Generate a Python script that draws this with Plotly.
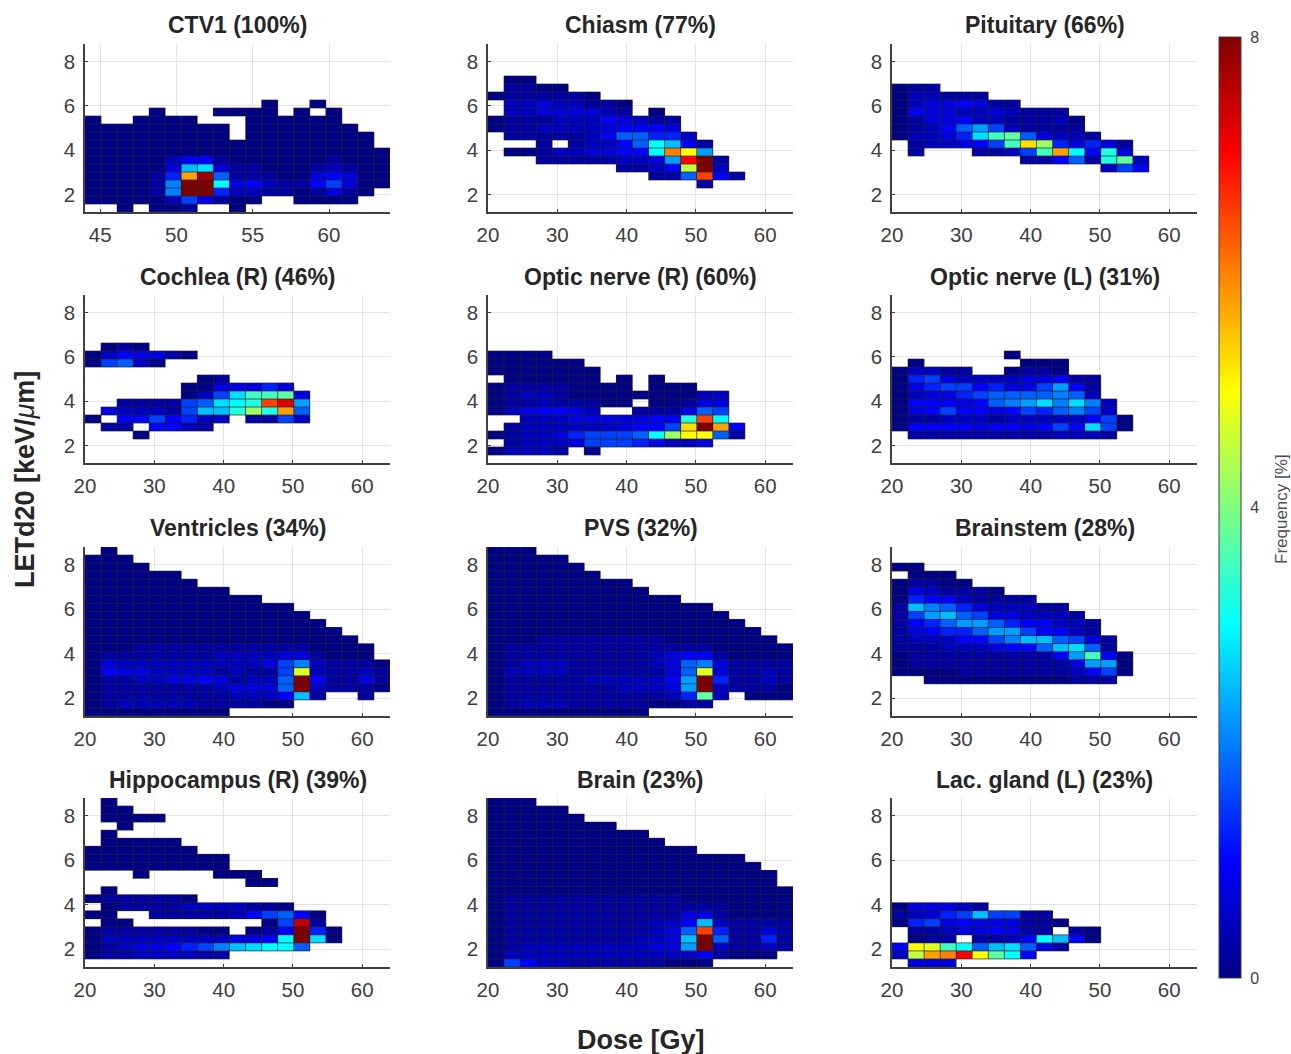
import plotly.graph_objects as go

# Each panel: 21 rows from top (highest LETd20 bin) to bottom, 19 dose bins per row.
# '.' = empty bin, otherwise one character = frequency in quarter-percent steps.
CODES = "0123456789ABCDEFGHIJKLMNOPQRSTUVW"

ctv1 = ["", "", "", "", "", "", "",
 "...........0..0",
 "....0...0000.0.0",
 "0..0000...000000",
 "000000000.0000000",
 "000000000.00000000",
 "000000000000000000",
 "0000000000000000000",
 "0000024410000001000",
 "000003AB31100012100",
 "000015NV71110034300",
 "000018WWC3421146300",
 "000018WW5221101310",
 "00000263100..0000",
 "..0.001..0"]

chiasm = ["", "", "", "",
 ".00",
 ".1100",
 "0111110",
 ".22322110",
 ".22333321.0",
 "011122243211",
 "011222234443",
 ".111112477552",
 "...1.12247CA41",
 ".001223344COK9",
 "...111112239SW1",
 "........1124IW2",
 "..........117Q41",
 ".............1",
 "", "", ""]

pituitary = ["", "", "", "", "",
 "011",
 "022111",
 "02334311",
 "04332232111",
 "013342211120",
 "012479621111",
 "02235BEF73221",
 ".122346ELH53531",
 ".1...1126ENC4D3",
 "........11471DF2",
 ".............264",
 "", "", "", "", ""]

cochlea_r = ["", "", "", "", "", "",
 ".010",
 "0243310",
 "06720",
 "",
 ".......01",
 "......0033353",
 "......026BEEF3",
 "..111167BCDQT9",
 ".322216AADHDN7",
 "0.4464522.1162",
 ".11.4421",
 "...0",
 "", "", ""]

optic_r = ["", "", "", "", "", "", "",
 "0000",
 "000000",
 "0000000",
 ".000000.0.0",
 "011110000.000",
 "012210000000022",
 "011211100.00133",
 "0234432..111376",
 "..2223333344DQC",
 ".12222223446LWN4",
 "0122356667CHKK71",
 ".1222366653223",
 "02221.0",
 ""]

optic_l = ["", "", "", "", "", "", "",
 ".......0",
 ".0......000",
 "02211..0110",
 "0563222233411",
 "0356645336941",
 "0233567777872",
 "044434789B8B82",
 "03464434657862",
 "011222122222460",
 "044443443464B60",
 ".1111111112221",
 "", "", ""]

ventricles = [
 ".0",
 "000",
 "0000",
 "000000",
 "0000000",
 "000000000",
 "00000000000",
 "0000000000000",
 "00000000000000",
 "000000000000000",
 "0000000000000000",
 "00000000000000000",
 "000111111111110000",
 "011111112222331000",
 "0322222222236821110",
 "0433222212116J21121",
 "0112233431227W41131",
 "0111111123337W21110",
 "0111111112224A1..1",
 "0122222111100",
 "000000000"]

pvs = [
 "000",
 "00000",
 "000000",
 "0000000",
 "000000000",
 "0000000000",
 "000000000000",
 "00000000000000",
 "000000000000000",
 "0000000000000000",
 "00000000000000000",
 "000111111110000000",
 "0111111111111100000",
 "0111111111234410000",
 "0122211111237831111",
 "0222211111137J31121",
 "0111112222249W51121",
 "0111111122239W21110",
 "0111111111125F2.000",
 "01222111110011",
 "0000000000"]

brainstem = ["", "",
 "00",
 ".000",
 "01100",
 "0321110",
 "054421111",
 "1A875322211",
 "169A76332221",
 "1457997544221",
 "1345579964421",
 "12224468AA7631",
 "1112223447AB71",
 "011111111149E40",
 "011111111113990",
 "000011111112460",
 "..000000000111",
 "", "", "", ""]

hippocampus_r = [
 ".0",
 ".00",
 ".0000",
 "..0",
 ".0",
 ".00000",
 "0000000",
 "000000000",
 "000000000",
 "...0....000",
 "..........00",
 ".0",
 "0111110",
 ".011112222110",
 "00..11111246740",
 ".00........06U1",
 "011111100.014W50",
 "022222222334CWB0",
 "012334568ABCC7",
 "011222211",
 ""]

brain = [
 "000",
 "00000",
 "000000",
 "00000000",
 "0000000000",
 "00000000000",
 "0000000000000",
 "0000000000000000",
 "00000000000000000",
 "000000000000000000",
 "000000000000000000",
 "0000000000000000000",
 "0111111111110000000",
 "0111111111111110000",
 "0111111111113310000",
 "011111111122" + "4A21111",
 "011111111123" + "7Q51131",
 "011111111223" + "AW71151",
 "012222222233" + "9W21121",
 "022222222222" + "241000",
 "06422111111000"]

lac_gland_l = ["", "", "", "", "", "", "", "", "", "", "", "", "",
 "033321",
 "12356A6611",
 "05634333110",
 ".112334311.10",
 ".011.1124CA40",
 "4KJEC7AB731",
 "2INOSKFC4",
 ".333"]

titles = ["CTV1 (100%)", "Chiasm (77%)", "Pituitary (66%)",
          "Cochlea (R) (46%)", "Optic nerve (R) (60%)", "Optic nerve (L) (31%)",
          "Ventricles (34%)", "PVS (32%)", "Brainstem (28%)",
          "Hippocampus (R) (39%)", "Brain (23%)", "Lac. gland (L) (23%)"]
panels = [ctv1, chiasm, pituitary, cochlea_r, optic_r, optic_l,
          ventricles, pvs, brainstem, hippocampus_r, brain, lac_gland_l]

y_ticks = [2, 4, 6, 8]
x_ticks_full = [20, 30, 40, 50, 60]
x_ticks_ctv = [45, 50, 55, 60]
y_range = [1.2, 8.8]
x_range_full = [20, 64]
x_range_ctv = [44, 64]
n_x, n_y = 19, 21
bar_ticks = [0, 4, 8]

# MATLAB jet
jet = [[0, "rgb(0,0,135)"], [0.125, "rgb(0,0,255)"], [0.375, "rgb(0,255,255)"],
       [0.625, "rgb(255,255,0)"], [0.875, "rgb(255,0,0)"], [1, "rgb(128,0,0)"]]

W, H = 1291, 1054
col_px = [(85, 390), (488, 793), (892, 1197)]
row_px = [(44, 212), (295, 463), (547, 716), (798, 967)]
title_y = [25, 277, 528, 780]
FONT = "Liberation Sans"
TXT = "#404040"

def px(x): return x / W
def py(y): return 1 - y / H

def decode(rows):
    out = []
    for r in reversed(rows):
        r = r.ljust(n_x, ".")[:n_x]
        out.append([None if c == "." else CODES.index(c) / 4 for c in r])
    return out

fig = go.Figure()
layout = {}
annotations = []

for i, (rows, title) in enumerate(zip(panels, titles)):
    assert len(rows) == n_y
    c, r = i % 3, i // 3
    xr = x_range_ctv if i == 0 else x_range_full
    xticks = x_ticks_ctv if i == 0 else x_ticks_full
    xe = [xr[0] + (xr[1] - xr[0]) * k / n_x for k in range(n_x + 1)]
    ye = [y_range[0] + (y_range[1] - y_range[0]) * k / n_y for k in range(n_y + 1)]
    z = decode(rows)
    sfx = "" if i == 0 else str(i + 1)
    xa, ya = "x" + sfx, "y" + sfx
    fig.add_trace(go.Heatmap(x=xe, y=ye, z=z, coloraxis="coloraxis", xaxis=xa, yaxis=ya,
                             hoverongaps=False, showscale=False))
    # cell outlines
    segs = set()
    for ky in range(n_y):
        for kx in range(n_x):
            if z[ky][kx] is None:
                continue
            segs.add((kx, ky, kx + 1, ky))
            segs.add((kx, ky + 1, kx + 1, ky + 1))
            segs.add((kx, ky, kx, ky + 1))
            segs.add((kx + 1, ky, kx + 1, ky + 1))
    lx, ly = [], []
    for a, b, c2, d in sorted(segs):
        lx += [xe[a], xe[c2], None]
        ly += [ye[b], ye[d], None]
    fig.add_trace(go.Scatter(x=lx, y=ly, mode="lines", xaxis=xa, yaxis=ya, hoverinfo="skip",
                             showlegend=False, line=dict(color="rgba(35,35,45,0.7)", width=1)))
    common = dict(showgrid=True, gridcolor="#e4e4e4", gridwidth=1, zeroline=False, showline=True,
                  linecolor="#404040", linewidth=1.5, ticks="inside", ticklen=3, tickcolor="#404040",
                  tickfont=dict(family=FONT, size=20.5, color=TXT), layer="below traces",
                  ticklabelstandoff=4)
    layout["xaxis" + sfx] = dict(common, domain=[px(col_px[c][0]), px(col_px[c][1])], range=xr,
                                 tickvals=xticks, anchor=ya)
    layout["yaxis" + sfx] = dict(common, domain=[py(row_px[r][1]), py(row_px[r][0])], range=y_range,
                                 tickvals=y_ticks, anchor=xa)
    annotations.append(dict(text="<b>%s</b>" % title, x=px(sum(col_px[c]) / 2), y=py(title_y[r]),
                            xref="paper", yref="paper", showarrow=False, xanchor="center", yanchor="middle",
                            font=dict(family=FONT, size=23, color="#262626")))

annotations.append(dict(text="<b>Dose [Gy]</b>", x=px(641), y=py(1040), xref="paper", yref="paper",
                        showarrow=False, xanchor="center", yanchor="middle",
                        font=dict(family=FONT, size=27, color="#262626")))
annotations.append(dict(text="<b>LETd20 [keV/</b><i>μ</i><b>m]</b>", x=px(25), y=py(480), xref="paper", yref="paper",
                        showarrow=False, xanchor="center", yanchor="middle", textangle=-90,
                        font=dict(family=FONT, size=27, color="#262626")))
annotations.append(dict(text="Frequency [%]", x=px(1281), y=py(509), xref="paper", yref="paper",
                        showarrow=False, xanchor="center", yanchor="middle", textangle=-90,
                        font=dict(family=FONT, size=17, color="#505050")))

fig.update_layout(
    width=W, height=H, margin=dict(l=0, r=0, t=0, b=0, autoexpand=False),
    paper_bgcolor="white", plot_bgcolor="white", showlegend=False,
    annotations=annotations,
    coloraxis=dict(cmin=0, cmax=8, colorscale=jet,
                   colorbar=dict(x=px(1219), xanchor="left", thickness=22, thicknessmode="pixels",
                                 len=941, lenmode="pixels", y=py(507.5), yanchor="middle",
                                 xpad=0, ypad=0, tickvals=bar_ticks, ticks="outside", ticklen=6,
                                 tickcolor="rgba(0,0,0,0)", outlinecolor="#404040",
                                 outlinewidth=1, tickfont=dict(family=FONT, size=16, color=TXT))),
    **layout)
fig.write_html("out.html", config={"displayModeBar": False},
               post_script="document.body.style.margin='0';document.body.style.overflow='hidden';")
